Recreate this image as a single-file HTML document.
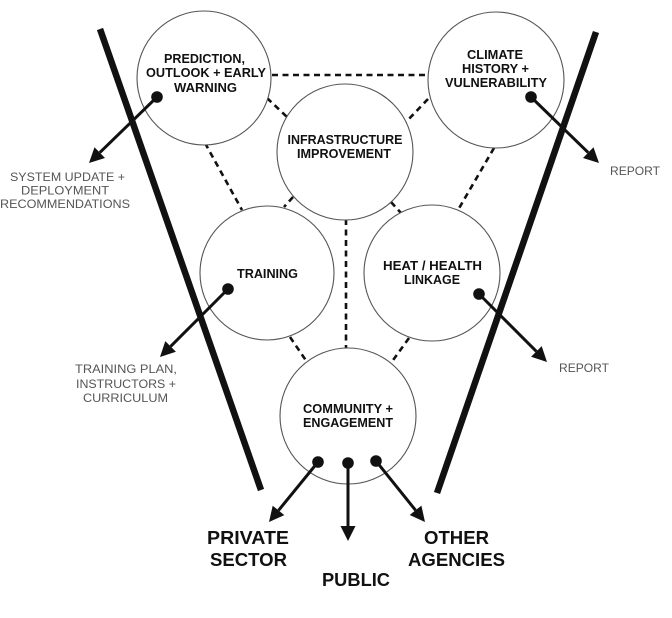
<!DOCTYPE html>
<html>
<head>
<meta charset="utf-8">
<style>
  html, body { margin:0; padding:0; background:#fff; }
  svg { display:block; }
  .c { fill:#fff; stroke:#555; stroke-width:1.1; }
  .d { stroke:#111; stroke-width:2.6; stroke-dasharray:6 4.5; fill:none; }
  .t { stroke:#111; stroke-width:6.5; stroke-linecap:butt; }
  .a { stroke:#111; stroke-width:3; fill:none; }
  .h { fill:#111; }
  .lb { font-family:"Liberation Sans", sans-serif; font-weight:bold; font-size:12.5px; fill:#111; text-anchor:middle; }
  .big { font-family:"Liberation Sans", sans-serif; font-weight:bold; font-size:18.5px; fill:#111; text-anchor:middle; }
  .sl { font-family:"Liberation Sans", sans-serif; font-size:12px; fill:#555; text-anchor:middle; }
</style>
</head>
<body>
<svg width="672" height="618" viewBox="0 0 672 618" xmlns="http://www.w3.org/2000/svg">
  <rect width="672" height="618" fill="#fff"/>

  <!-- dashed connectors -->
  <line class="d" x1="272" y1="75" x2="428" y2="75"/>
  <line class="d" x1="267" y1="98" x2="287" y2="117"/>
  <line class="d" x1="428" y1="99" x2="406" y2="122"/>
  <line class="d" x1="205" y1="143" x2="242" y2="210"/>
  <line class="d" x1="293" y1="197" x2="284" y2="207"/>
  <line class="d" x1="494" y1="148" x2="458" y2="210"/>
  <line class="d" x1="391" y1="202" x2="401" y2="213"/>
  <line class="d" x1="346" y1="219" x2="346" y2="348"/>
  <line class="d" x1="290" y1="337" x2="307" y2="362"/>
  <line class="d" x1="409" y1="338" x2="391" y2="363"/>

  <!-- circles -->
  <circle class="c" cx="204" cy="78" r="67"/>
  <circle class="c" cx="496" cy="80" r="68"/>
  <circle class="c" cx="345" cy="152" r="68"/>
  <circle class="c" cx="267" cy="273" r="67"/>
  <circle class="c" cx="432" cy="273" r="68"/>
  <circle class="c" cx="348" cy="416" r="68"/>

  <!-- funnel lines -->
  <line class="t" x1="100" y1="29" x2="261" y2="490"/>
  <line class="t" x1="596" y1="32" x2="437" y2="493"/>

  <!-- arrows -->
  <circle class="h" cx="157" cy="97" r="5.8"/>
  <line class="a" x1="157" y1="97" x2="99.8" y2="152.6"/>
  <polygon class="h" points="89,163 105,158 94.5,147.2"/>

  <circle class="h" cx="531" cy="97" r="5.8"/>
  <line class="a" x1="531" y1="97" x2="588.2" y2="152.6"/>
  <polygon class="h" points="599,163 583,158 593.5,147.2"/>

  <circle class="h" cx="228" cy="289" r="5.8"/>
  <line class="a" x1="228" y1="289" x2="170.6" y2="346.4"/>
  <polygon class="h" points="160,357 175.9,351.7 165.3,341.1"/>

  <circle class="h" cx="479" cy="294" r="5.8"/>
  <line class="a" x1="479" y1="294" x2="536.4" y2="351.4"/>
  <polygon class="h" points="547,362 531.1,356.7 541.7,346.1"/>

  <circle class="h" cx="318" cy="462" r="5.8"/>
  <line class="a" x1="318" y1="462" x2="278.5" y2="510.4"/>
  <polygon class="h" points="269,522 284.3,515.1 272.7,505.7"/>

  <circle class="h" cx="348" cy="463" r="5.8"/>
  <line class="a" x1="348" y1="463" x2="348" y2="527"/>
  <polygon class="h" points="348,541 340.5,526 355.5,526"/>

  <circle class="h" cx="376" cy="461" r="5.8"/>
  <line class="a" x1="376" y1="461" x2="415.6" y2="510.3"/>
  <polygon class="h" points="425,522 409.7,515 421.4,505.6"/>

  <!-- circle labels -->
  <text class="lb" x="204.5" y="63" textLength="81" lengthAdjust="spacingAndGlyphs">PREDICTION,</text>
  <text class="lb" x="206" y="77" textLength="120" lengthAdjust="spacingAndGlyphs">OUTLOOK + EARLY</text>
  <text class="lb" x="205.5" y="92" textLength="63" lengthAdjust="spacingAndGlyphs">WARNING</text>

  <text class="lb" x="495" y="59" textLength="56" lengthAdjust="spacingAndGlyphs">CLIMATE</text>
  <text class="lb" x="495.5" y="73" textLength="67" lengthAdjust="spacingAndGlyphs">HISTORY +</text>
  <text class="lb" x="496" y="87" textLength="102" lengthAdjust="spacingAndGlyphs">VULNERABILITY</text>

  <text class="lb" x="345" y="144" textLength="115" lengthAdjust="spacingAndGlyphs">INFRASTRUCTURE</text>
  <text class="lb" x="344" y="158" textLength="94" lengthAdjust="spacingAndGlyphs">IMPROVEMENT</text>

  <text class="lb" x="267.5" y="278" textLength="61" lengthAdjust="spacingAndGlyphs">TRAINING</text>

  <text class="lb" x="432.5" y="270" textLength="99" lengthAdjust="spacingAndGlyphs">HEAT / HEALTH</text>
  <text class="lb" x="432" y="284" textLength="56" lengthAdjust="spacingAndGlyphs">LINKAGE</text>

  <text class="lb" x="348" y="413" textLength="90" lengthAdjust="spacingAndGlyphs">COMMUNITY +</text>
  <text class="lb" x="348" y="427" textLength="90" lengthAdjust="spacingAndGlyphs">ENGAGEMENT</text>

  <!-- bottom labels -->
  <text class="big" x="248" y="544" textLength="82" lengthAdjust="spacingAndGlyphs">PRIVATE</text>
  <text class="big" x="248.5" y="566" textLength="77" lengthAdjust="spacingAndGlyphs">SECTOR</text>
  <text class="big" x="356" y="586" textLength="68" lengthAdjust="spacingAndGlyphs">PUBLIC</text>
  <text class="big" x="456.5" y="544" textLength="65" lengthAdjust="spacingAndGlyphs">OTHER</text>
  <text class="big" x="456.5" y="566" textLength="97" lengthAdjust="spacingAndGlyphs">AGENCIES</text>

  <!-- side labels -->
  <text class="sl" x="67.5" y="181" textLength="115" lengthAdjust="spacingAndGlyphs">SYSTEM UPDATE +</text>
  <text class="sl" x="65" y="194.5" textLength="88" lengthAdjust="spacingAndGlyphs">DEPLOYMENT</text>
  <text class="sl" x="65" y="208" textLength="130" lengthAdjust="spacingAndGlyphs">RECOMMENDATIONS</text>

  <text class="sl" x="635" y="175" textLength="50" lengthAdjust="spacingAndGlyphs">REPORT</text>
  <text class="sl" x="584" y="372" textLength="50" lengthAdjust="spacingAndGlyphs">REPORT</text>

  <text class="sl" x="126" y="373" textLength="102" lengthAdjust="spacingAndGlyphs">TRAINING PLAN,</text>
  <text class="sl" x="126" y="388" textLength="100" lengthAdjust="spacingAndGlyphs">INSTRUCTORS +</text>
  <text class="sl" x="125.5" y="402" textLength="85" lengthAdjust="spacingAndGlyphs">CURRICULUM</text>
</svg>
</body>
</html>
